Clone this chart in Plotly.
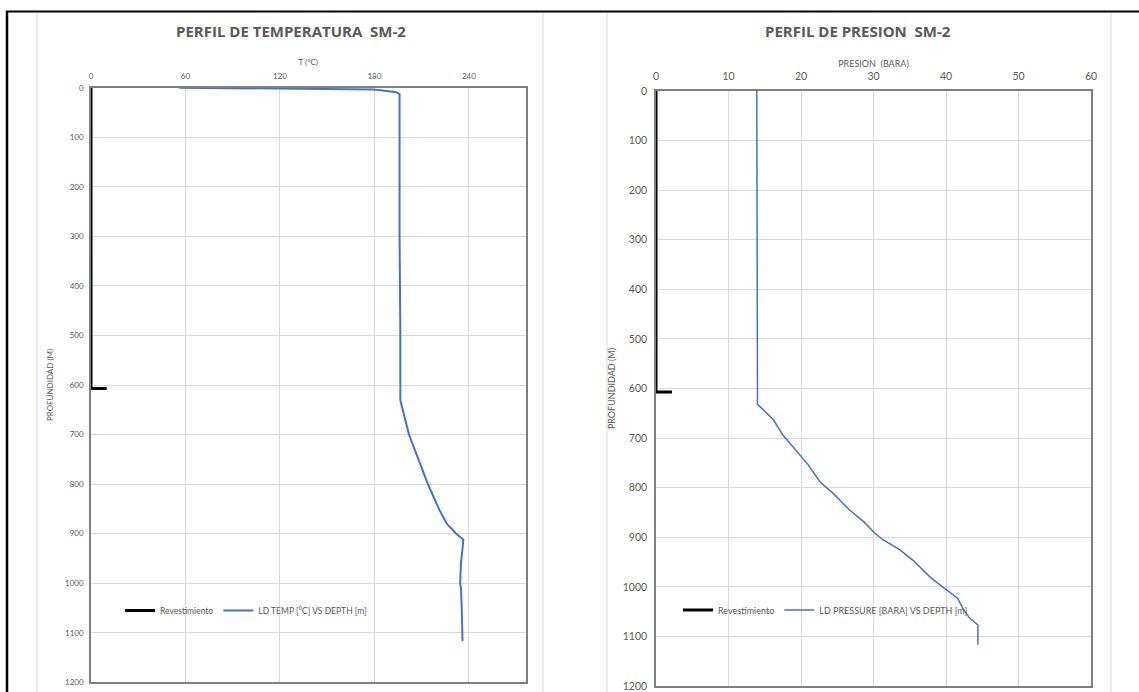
import plotly.graph_objects as go

W, H = 1139, 692

# ---- data ----
temp_depth = [0, 1, 2, 3, 3.5, 5, 7, 9, 13, 20, 100, 300, 500, 630, 650, 700, 750, 800, 850, 880,
              900, 912, 930, 960, 1000, 1010, 1050, 1117]
temp_vals = [56, 100, 150, 170, 179, 184, 190, 194, 196, 196, 196, 196, 196.5, 196.5, 198, 202,
             208, 214, 221, 226, 232, 236.5, 236, 235, 234.5, 235, 235.5, 236]

pres_depth = [0, 200, 400, 632, 640, 663, 694, 730, 754, 788, 811, 845, 868, 892, 905, 925, 946,
              983, 1006, 1023, 1043, 1063, 1077, 1100, 1117]
pres_vals = [13.9, 13.9, 13.95, 14.0, 14.6, 16.2, 17.5, 19.6, 21.0, 22.6, 24.4, 26.7, 28.6, 30.2,
             31.3, 33.6, 35.4, 38.0, 40.0, 41.6, 42.3, 43.25, 44.4, 44.4, 44.4]

casing_depth = [0, 607, 607]
casing_temp = [0, 0, 10]
casing_pres = [0, 0, 2.2]

temp_ticks = [0, 60, 120, 180, 240]
pres_ticks = [0, 10, 20, 30, 40, 50, 60]
depth_ticks = list(range(0, 1201, 100))

BLUE = "#4472C4"
GRAY_TXT = "#595959"
GRID = "#d9d9d9"
FONT = "Lato, Open Sans, Liberation Sans, sans-serif"
TFONT = "Open Sans, Lato, sans-serif"

def px(x):
    return x / W

def py(y):
    return 1 - y / H

fig = go.Figure()

fig.add_trace(go.Scatter(x=casing_temp, y=casing_depth, mode="lines", name="Revestimiento",
                         line=dict(color="black", width=3), xaxis="x", yaxis="y", legend="legend"))
fig.add_trace(go.Scatter(x=temp_vals, y=temp_depth, mode="lines", name="LD TEMP [°C] VS DEPTH [m]",
                         line=dict(color=BLUE, width=2), xaxis="x", yaxis="y", legend="legend"))
fig.add_trace(go.Scatter(x=casing_pres, y=casing_depth, mode="lines", name="Revestimiento",
                         line=dict(color="black", width=3), xaxis="x2", yaxis="y2", legend="legend2"))
fig.add_trace(go.Scatter(x=pres_vals, y=pres_depth, mode="lines", name="LD PRESSURE [BARA] VS DEPTH [m]",
                         line=dict(color=BLUE, width=1.5), xaxis="x2", yaxis="y2", legend="legend2"))

axis_common = dict(showgrid=True, gridcolor=GRID, gridwidth=1, zeroline=False, showline=True,
                   linecolor="#7f7f7f", linewidth=1.5, mirror=True, ticks="", automargin=False)

fig.update_layout(
    width=W, height=H, margin=dict(l=0, r=0, t=0, b=0, autoexpand=False),
    paper_bgcolor="white", plot_bgcolor="white", font=dict(family=FONT, color=GRAY_TXT),
    xaxis=dict(domain=[px(91), px(525.5)], anchor="y", side="top", range=[0, 276],
               tickvals=temp_ticks, tickfont=dict(size=8, color=GRAY_TXT), ticklabelstandoff=4,
               title=dict(text="T (°C)", font=dict(size=8, color=GRAY_TXT), standoff=4),
               **axis_common),
    yaxis=dict(domain=[py(682.3), py(87.7)], anchor="x", range=[1200, 0], tickvals=depth_ticks,
               tickfont=dict(size=8, color=GRAY_TXT), ticklabelstandoff=4,
               title=dict(text="PROFUNDIDAD (M)", font=dict(size=8, color=GRAY_TXT), standoff=10),
               **axis_common),
    xaxis2=dict(domain=[px(656), px(1091)], anchor="y2", side="top", range=[0, 60],
                tickvals=pres_ticks, tickfont=dict(size=10.5, color=GRAY_TXT), ticklabelstandoff=5,
                title=dict(text="PRESION  (BARA)", font=dict(size=9, color=GRAY_TXT), standoff=1),
                **axis_common),
    yaxis2=dict(domain=[py(686), py(91)], anchor="x2", range=[1200, 0], tickvals=depth_ticks,
                tickfont=dict(size=10.5, color=GRAY_TXT), ticklabelstandoff=5,
                title=dict(text="PROFUNDIDAD (M)", font=dict(size=9, color=GRAY_TXT), standoff=6),
                **axis_common),
    legend=dict(x=px(120), y=py(610.5), xanchor="left", yanchor="middle", orientation="h",
                bgcolor="rgba(0,0,0,0)", font=dict(size=8.5, color=GRAY_TXT, family=FONT),
                itemwidth=30, tracegroupgap=0),
    legend2=dict(x=px(678), y=py(610), xanchor="left", yanchor="middle", orientation="h",
                 bgcolor="rgba(0,0,0,0)", font=dict(size=9, color=GRAY_TXT, family=FONT),
                 itemwidth=30, tracegroupgap=0),
    annotations=[
        dict(text="<b>PERFIL DE TEMPERATURA  SM-2</b>", x=px(291), y=py(31), xref="paper", yref="paper",
             xanchor="center", yanchor="middle",
             showarrow=False, font=dict(size=15, color=GRAY_TXT, family=TFONT)),
        dict(text="<b>PERFIL DE PRESION  SM-2</b>", x=px(858), y=py(31), xref="paper", yref="paper",
             xanchor="center", yanchor="middle",
             showarrow=False, font=dict(size=15, color=GRAY_TXT, family=TFONT)),
    ],
    shapes=[
        # chart area borders
        dict(type="rect", xref="paper", yref="paper", x0=px(37), x1=px(543), y0=py(700), y1=py(11.5),
             line=dict(color="#d9d9d9", width=1), layer="below"),
        dict(type="rect", xref="paper", yref="paper", x0=px(607), x1=px(1111), y0=py(700), y1=py(11.5),
             line=dict(color="#d9d9d9", width=1), layer="below"),
        # outer table frame
        dict(type="line", xref="paper", yref="paper", x0=px(6), x1=1, y0=py(11.5), y1=py(11.5),
             line=dict(color="black", width=2)),
        dict(type="line", xref="paper", yref="paper", x0=px(7), x1=px(7), y0=py(11), y1=0,
             line=dict(color="black", width=2.5)),
    ],
)

fig.write_html("out.html", config={"displayModeBar": False},
               post_script="document.body.style.margin='0';document.body.style.overflow='hidden';")
